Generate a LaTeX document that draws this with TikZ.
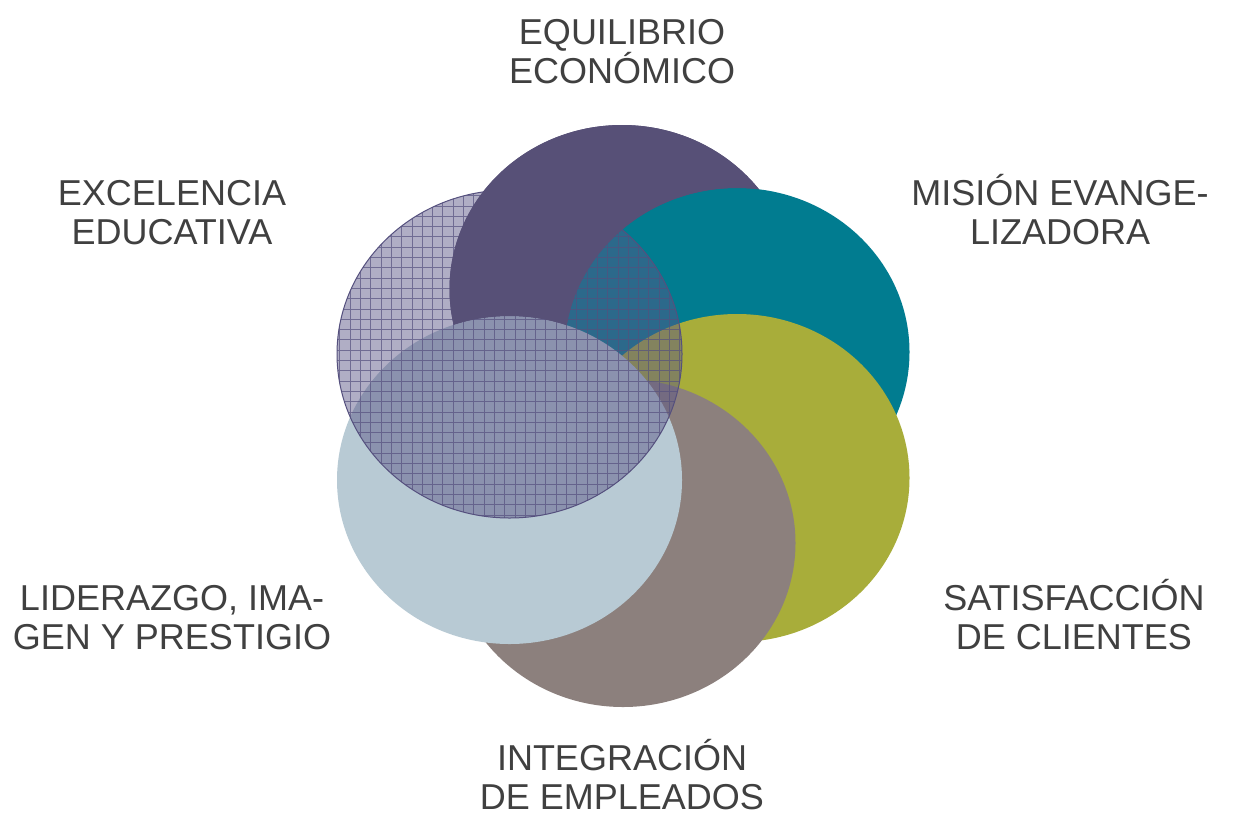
\documentclass[tikz,border=0pt]{standalone}
\usepackage{fontspec}
\setmainfont{Liberation Sans}
\definecolor{cpurple}{HTML}{575077}
\definecolor{cteal}{HTML}{017C90}
\definecolor{colive}{HTML}{A8AD3A}
\definecolor{cgray}{HTML}{8C807D}
\definecolor{clblue}{HTML}{B8CAD4}
\definecolor{chatch}{HTML}{5B5686}
\definecolor{cgrid}{HTML}{55507E}
\definecolor{ctext}{HTML}{404040}
\begin{document}
\begin{tikzpicture}[x=0.5pt,y=-0.5pt,
  lbl/.style={font=\fontsize{18}{19.5}\selectfont, text=ctext, align=center, anchor=base, inner sep=0pt},
  ell/.style={x radius=86.25pt, y radius=82pt}]
\useasboundingbox (0,0) rectangle (1234,814);
\fill[white] (0,0) rectangle (1234,814);
% circles, back to front
\fill[cpurple] (622,289) ellipse [ell];
\fill[cteal] (737,352) ellipse [ell];
\fill[colive] (737,478) ellipse [ell];
\fill[cgray] (623,543) ellipse [ell];
\fill[clblue] (509.5,480) ellipse [ell];
% hatched translucent ellipse
\fill[chatch, fill opacity=0.48] (509.5,354) ellipse [ell];
\begin{scope}
  \clip (509.5,354) ellipse [ell];
  \draw[cgrid, line width=0.45pt, step=5.15pt, opacity=0.7] (320,170) grid (700,540);
\end{scope}
\draw[cgrid, line width=0.5pt] (509.5,354) ellipse [ell];
% purple lies above the hatched ellipse where nothing else covers it
\begin{scope}[even odd rule]
  \clip (-10,-10) rectangle (1244,824) (737,352) ellipse [ell];
  \begin{scope}[even odd rule]
    \clip (-10,-10) rectangle (1244,824) (737,478) ellipse [ell];
    \begin{scope}[even odd rule]
      \clip (-10,-10) rectangle (1244,824) (623,543) ellipse [ell];
      \begin{scope}[even odd rule]
        \clip (-10,-10) rectangle (1244,824) (509.5,480) ellipse [ell];
        \fill[cpurple] (622,289) ellipse [ell];
      \end{scope}
    \end{scope}
  \end{scope}
\end{scope}
% labels (anchor base = baseline of the last line)
\node[lbl] (eq) at (622,83) {EQUILIBRIO\\ECONÓMICO};
\node[lbl] (ex) at (172,244) {EXCELENCIA\\EDUCATIVA};
\node[lbl] (mi) at (1060,244) {MISIÓN EVANGE-\\LIZADORA};
\node[lbl] (li) at (172,649) {LIDERAZGO, IMA-\\GEN Y PRESTIGIO};
\node[lbl] (sa) at (1074,649) {SATISFACCIÓN\\DE CLIENTES};
\node[lbl] (ig) at (622,809) {INTEGRACIÓN\\DE EMPLEADOS};
\end{tikzpicture}
\end{document}
